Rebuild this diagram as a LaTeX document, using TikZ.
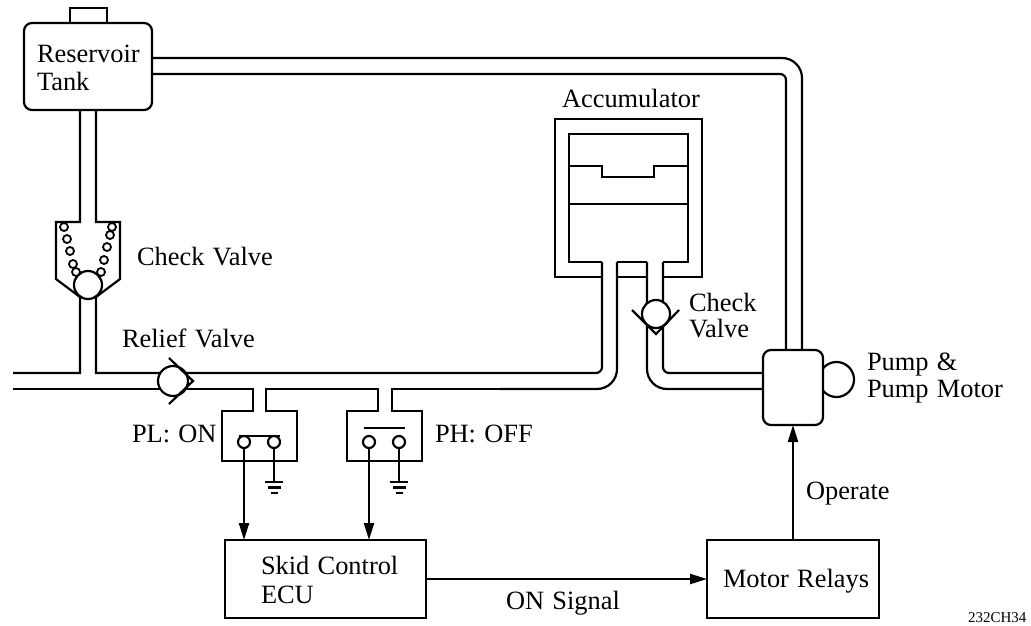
\documentclass[tikz,border=0pt]{standalone}
\usepackage{fontspec}
\setmainfont[WordSpace=1.25]{Liberation Serif}
\usetikzlibrary{arrows.meta}

\begin{document}
\begin{tikzpicture}[
                x=1pt,
                y=-1pt,
                > ={Triangle[length=17pt,width=10pt]},
                draw=black,
                line width=2.2pt,
                font=\fontsize{26.4}{28.5}\selectfont,
                pipe/.style={line width=2.2pt},
                thinline/.style={line width=1.6pt},
                tag/.style={anchor=base west, inner sep=0pt, outer sep=0pt},
                stacked/.style={anchor=west, inner sep=0pt, outer sep=0pt, align=left},
                unit/.style={draw, fill=white, inner sep=0pt, outer sep=0pt},
                terminal/.style={circle, draw, fill=white, minimum size=12pt, inner sep=0pt, outer sep=0pt},
                coil/.style={circle, draw, fill=white, line width=1.8pt, minimum size=8pt, inner sep=0pt},
                ball/.style={circle, draw, fill=white, inner sep=0pt},
            ]
            \useasboundingbox (0,0) rectangle (1031,626);

            % units
            \node[unit, rounded corners=8pt, minimum width=128pt, minimum height=87pt] (tank) at (88,66.5) {};
            \node[unit, minimum width=201pt, minimum height=78pt] (skid) at (325.5,579) {};
            \node[unit, minimum width=172pt, minimum height=78pt] (relays) at (793,579) {};

            \draw (tank.north -| 70,0) -- (70,8) -- (107,8) -- (tank.north -| 107,0);

            % tank to pump
            \draw[pipe, rounded corners=20pt] (tank.east |- 0,58) -- (802,58) -- (802,350);
            \draw[pipe, rounded corners=6pt] (tank.east |- 0,74) -- (786,74) -- (786,350);

            % tank to main line, through the check valve
            \draw[pipe] (80,110) -- (80,222) -- (56,222) -- (56,279) -- (80,297) -- (80,373) -- (13,373);
            \draw[pipe] (96,110) -- (96,222) -- (120,222) -- (120,279) -- (96,297) -- (96,373) -- (300,373);
            \draw[pipe, rounded corners=6pt] (300,373) -- (602,373) -- (602,262);
            \draw[pipe] (13,389) -- (253,389) -- (253,411) -- (222,411) -- (222,461) -- (297,461)
                -- (297,411) -- (266,411) -- (266,389) -- (378,389) -- (378,411) -- (347,411)
                -- (347,461) -- (422,461) -- (422,411) -- (392,411) -- (392,389) -- (500,389);
            \draw[pipe, rounded corners=20pt] (500,389) -- (617,389) -- (617,262);

            % accumulator
            \draw[pipe] (602,277) -- (555,277) -- (555,119) -- (702,119) -- (702,277) -- (663,277);
            \draw[pipe] (617,277) -- (647,277);
            \draw[pipe] (602,262) -- (569,262) -- (569,134) -- (688,134) -- (688,262) -- (663,262);
            \draw[pipe] (617,262) -- (647,262);
            \draw[pipe] (569,166) -- (602,166) -- (602,177) -- (654,177) -- (654,166) -- (688,166);
            \draw[thinline] (569,204) -- (688,204);

            % accumulator to pump
            \draw[pipe, rounded corners=20pt] (647,262) -- (647,389) -- (763,389);
            \draw[pipe, rounded corners=6pt] (663,262) -- (663,373) -- (763,373);

            % valves
            \node[ball, minimum size=28pt] (checkA) at (88,285) {};
            \foreach \x/\y in {64/227, 67/239, 70/251, 73/264, 76/272, 112/227, 110/235, 107/247, 104/260, 101/272}
                \node[coil] at (\x,\y) {};
            \node[ball, minimum size=30pt] (relief) at (173,381) {};
            \draw (169,358) -- (193,381) -- (169,404);
            \node[ball, minimum size=28pt] (checkB) at (656,314) {};
            \draw (632,310) -- (656,334) -- (679,310);

            % pump
            \node[ball, minimum size=35pt] (motor) at (836.5,379.5) {};
            \node[unit, rounded corners=8pt, minimum width=60pt, minimum height=75pt] (pump) at (793,387.5) {};

            % pressure switches
            \node[terminal] (plA) at (244,442) {};
            \node[terminal] (plB) at (274,442) {};
            \node[terminal] (phA) at (369,442) {};
            \node[terminal] (phB) at (399,442) {};
            \draw (239,436) -- (280,436);
            \draw[thinline] (364,428) -- (405,428);

            \foreach \sw in {plB, phB}{
                \coordinate (gnd) at ([yshift=-34pt]\sw.south);
                \draw (\sw.south) -- (gnd);
                \draw ([xshift=-9pt]gnd) -- ([xshift=9pt]gnd);
                \draw ([xshift=-6.5pt,yshift=-5.5pt]gnd) -- ([xshift=6.5pt,yshift=-5.5pt]gnd);
                \draw ([xshift=-3.5pt,yshift=-11pt]gnd) -- ([xshift=3.5pt,yshift=-11pt]gnd);
            }

            % signals
            \draw[->] (plA.south) -- (plA.south |- skid.north);
            \draw[->] (phA.south) -- (phA.south |- skid.north);
            \draw[->] (skid) -- (relays);
            \draw[->] (relays) -- (pump);

            % labels
            \node[stacked] (tanktext) at (37,68) {Reservoir\\Tank};
            \node[tag] (checktextA) at (137,265) {Check Valve};
            \node[tag] (relieftext) at (122,347) {Relief Valve};
            \node[tag] (acctext) at (562,107) {Accumulator};
            \node[stacked, font=\fontsize{26.4}{26}\selectfont] (checktextB) at (689,315.7) {Check\\Valve};
            \node[stacked, font=\fontsize{26.4}{27}\selectfont] (pumptext) at (867,378) {Pump \&\\Pump Motor};
            \node[tag] (pltext) at (132,442) {PL: ON};
            \node[tag] (phtext) at (435,442) {PH: OFF};
            \node[stacked] (skidtext) at (261,580) {Skid Control\\ECU};
            \node[tag] (signaltext) at (506,609) {ON Signal};
            \node[tag] (relaytext) at (723,587) {Motor Relays};
            \node[tag] (operatetext) at (806,499) {Operate};
            \node[tag, font=\fontsize{15}{17}\selectfont] (codetext) at (968,622) {232CH34};
        \end{tikzpicture}
\end{document}
